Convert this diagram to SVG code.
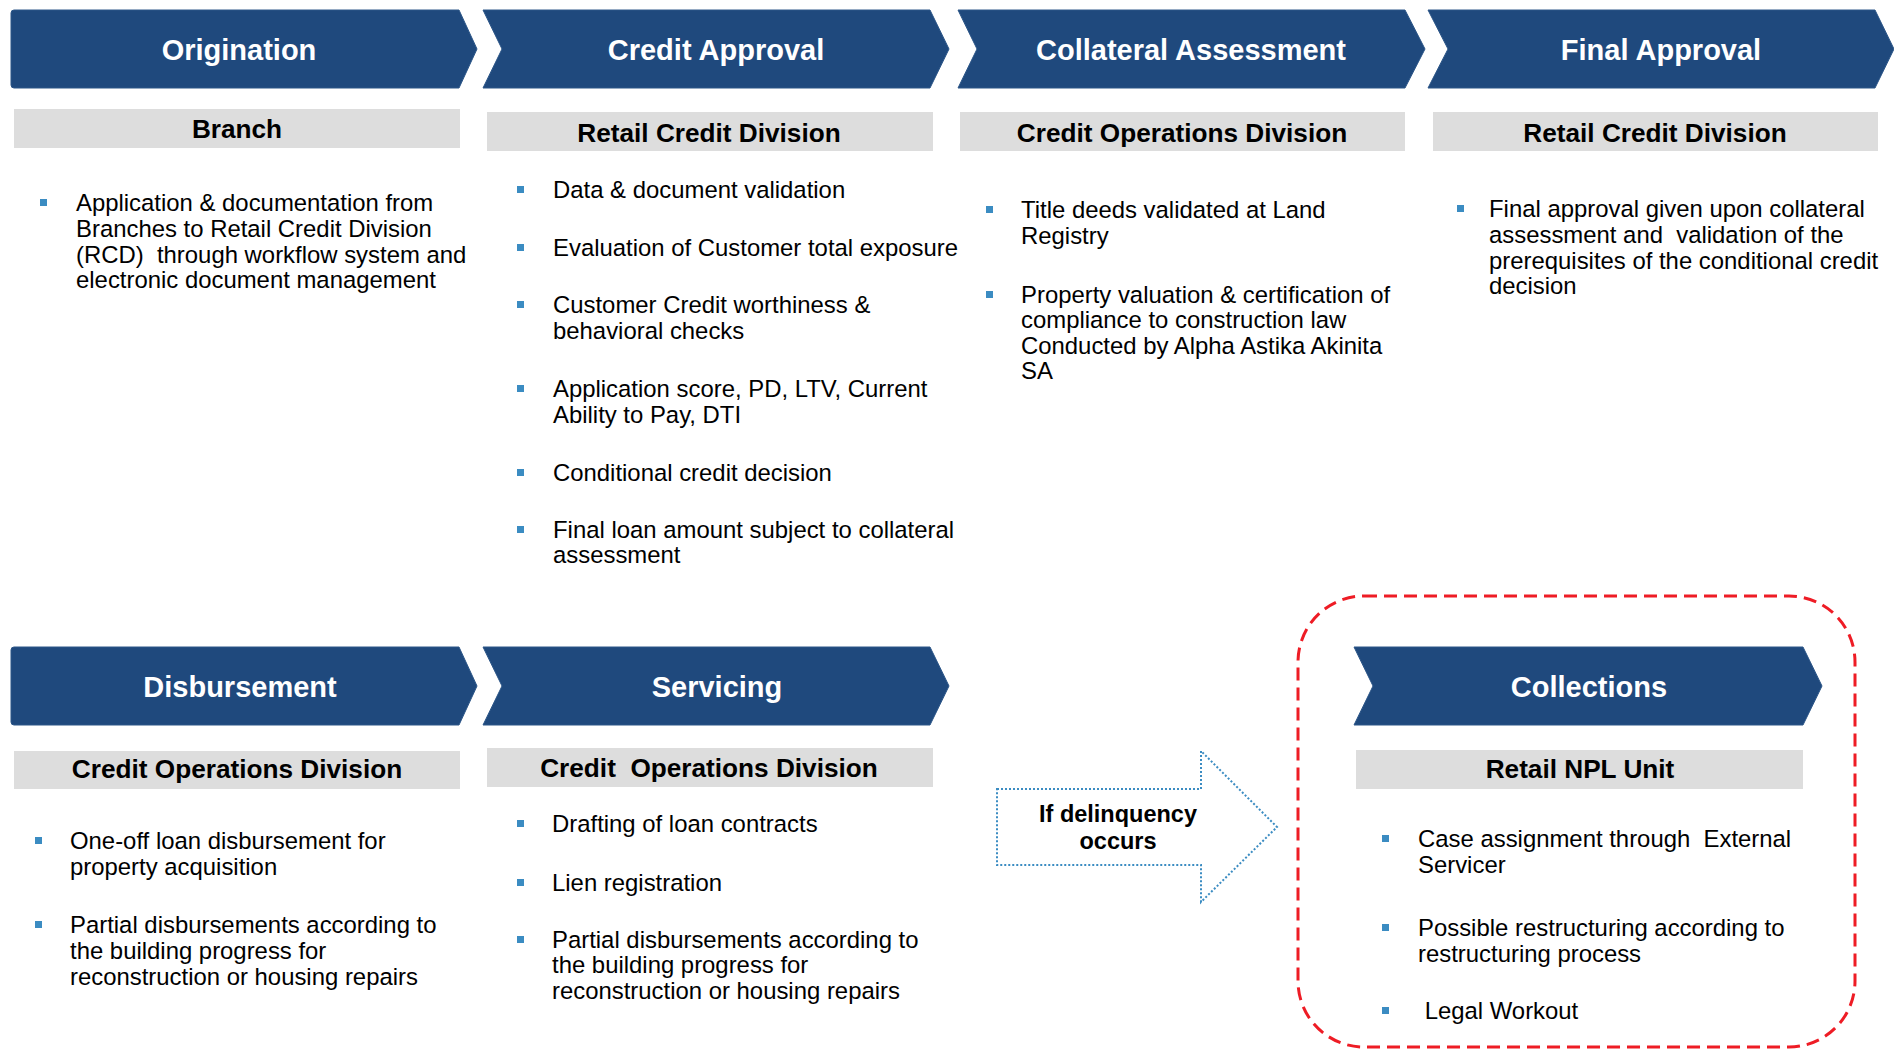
<svg xmlns="http://www.w3.org/2000/svg" width="1894" height="1053" viewBox="0 0 1894 1053">
<style>
.chev{fill:#1f497d;stroke:#2c5688;stroke-width:1}
.title{font-family:"Liberation Sans",Arial,sans-serif;font-weight:bold;font-size:29px;fill:#ffffff;text-anchor:middle}
.band{fill:#dddddd}
.head{font-family:"Liberation Sans",Arial,sans-serif;font-weight:bold;font-size:26.2px;fill:#000000;text-anchor:middle}
.body{font-family:"Liberation Sans",Arial,sans-serif;font-size:23.9px;fill:#000000}
.bul{fill:#3b8cc2}
.delq{fill:#ffffff;stroke:#3b8cc2;stroke-width:2;stroke-dasharray:2 2}
.delqt{font-family:"Liberation Sans",Arial,sans-serif;font-weight:bold;font-size:23.5px;fill:#000000;text-anchor:middle}
.frame{fill:none;stroke:#ee1c25;stroke-width:3;stroke-dasharray:13 7}
</style>
<rect width="1894" height="1053" fill="#ffffff"/>

<g id="origination">
<path class="chev" d="M14,10 L459,10 L477,49 L459,88 L14,88 Q11,88 11,85 L11,13 Q11,10 14,10 Z"/>
<text class="title" x="239" y="60">Origination</text>
<rect class="band" x="14" y="109" width="446" height="39"/>
<text class="head" x="237" y="138">Branch</text>
<rect class="bul" x="40" y="199" width="7" height="7"/>
<text class="body" xml:space="preserve"><tspan x="76" y="211">Application &amp; documentation from</tspan><tspan x="76" y="237">Branches to Retail Credit Division</tspan><tspan x="76" y="263">(RCD)  through workflow system and</tspan><tspan x="76" y="288">electronic document management</tspan></text>
</g>

<g id="credit-approval">
<path class="chev" d="M483,10 L930,10 L949,49 L930,88 L483,88 L502,49 Z"/>
<text class="title" x="716" y="60">Credit Approval</text>
<rect class="band" x="487" y="112" width="446" height="39"/>
<text class="head" x="709" y="142">Retail Credit Division</text>
<rect class="bul" x="517" y="186" width="7" height="7"/>
<text class="body" x="553" y="198">Data &amp; document validation</text>
<rect class="bul" x="517" y="244" width="7" height="7"/>
<text class="body" x="553" y="256">Evaluation of Customer total exposure</text>
<rect class="bul" x="517" y="301" width="7" height="7"/>
<text class="body"><tspan x="553" y="313">Customer Credit worthiness &amp;</tspan><tspan x="553" y="339">behavioral checks</tspan></text>
<rect class="bul" x="517" y="385" width="7" height="7"/>
<text class="body"><tspan x="553" y="397">Application score, PD, LTV, Current</tspan><tspan x="553" y="423">Ability to Pay, DTI</tspan></text>
<rect class="bul" x="517" y="469" width="7" height="7"/>
<text class="body" x="553" y="481">Conditional credit decision</text>
<rect class="bul" x="517" y="526" width="7" height="7"/>
<text class="body"><tspan x="553" y="538">Final loan amount subject to collateral</tspan><tspan x="553" y="563">assessment</tspan></text>
</g>

<g id="collateral-assessment">
<path class="chev" d="M958,10 L1405,10 L1425,49 L1405,88 L958,88 L977,49 Z"/>
<text class="title" x="1191" y="60">Collateral Assessment</text>
<rect class="band" x="960" y="112" width="445" height="39"/>
<text class="head" x="1182" y="142">Credit Operations Division</text>
<rect class="bul" x="986" y="206" width="7" height="7"/>
<text class="body"><tspan x="1021" y="218">Title deeds validated at Land</tspan><tspan x="1021" y="244">Registry</tspan></text>
<rect class="bul" x="986" y="291" width="7" height="7"/>
<text class="body"><tspan x="1021" y="303">Property valuation &amp; certification of</tspan><tspan x="1021" y="328">compliance to construction law</tspan><tspan x="1021" y="354">Conducted by Alpha Astika Akinita</tspan><tspan x="1021" y="379">SA</tspan></text>
</g>

<g id="final-approval">
<path class="chev" d="M1428,10 L1875,10 L1894,49 L1875,88 L1428,88 L1448,49 Z"/>
<text class="title" x="1661" y="60">Final Approval</text>
<rect class="band" x="1433" y="112" width="445" height="39"/>
<text class="head" x="1655" y="142">Retail Credit Division</text>
<rect class="bul" x="1457" y="205" width="7" height="7"/>
<text class="body" xml:space="preserve"><tspan x="1489" y="217">Final approval given upon collateral</tspan><tspan x="1489" y="243">assessment and  validation of the</tspan><tspan x="1489" y="269">prerequisites of the conditional credit</tspan><tspan x="1489" y="294">decision</tspan></text>
</g>

<g id="disbursement">
<path class="chev" d="M14,647 L459,647 L477,686 L459,725 L14,725 Q11,725 11,722 L11,650 Q11,647 14,647 Z"/>
<text class="title" x="240" y="697">Disbursement</text>
<rect class="band" x="14" y="751" width="446" height="38"/>
<text class="head" x="237" y="778">Credit Operations Division</text>
<rect class="bul" x="35" y="837" width="7" height="7"/>
<text class="body"><tspan x="70" y="849">One-off loan disbursement for</tspan><tspan x="70" y="875">property acquisition</tspan></text>
<rect class="bul" x="35" y="921" width="7" height="7"/>
<text class="body"><tspan x="70" y="933">Partial disbursements according to</tspan><tspan x="70" y="959">the building progress for</tspan><tspan x="70" y="985">reconstruction or housing repairs</tspan></text>
</g>

<g id="servicing">
<path class="chev" d="M483,647 L930,647 L949,686 L930,725 L483,725 L502,686 Z"/>
<text class="title" x="717" y="697">Servicing</text>
<rect class="band" x="487" y="748" width="446" height="39"/>
<text class="head" x="709" y="777" xml:space="preserve">Credit  Operations Division</text>
<rect class="bul" x="517" y="820" width="7" height="7"/>
<text class="body" x="552" y="832">Drafting of loan contracts</text>
<rect class="bul" x="517" y="879" width="7" height="7"/>
<text class="body" x="552" y="891">Lien registration</text>
<rect class="bul" x="517" y="936" width="7" height="7"/>
<text class="body"><tspan x="552" y="948">Partial disbursements according to</tspan><tspan x="552" y="973">the building progress for</tspan><tspan x="552" y="999">reconstruction or housing repairs</tspan></text>
</g>

<g id="collections">
<rect class="frame" x="1298" y="596" width="557" height="451" rx="66" ry="66"/>
<path class="chev" d="M1354,647 L1803,647 L1822,686 L1803,725 L1354,725 L1373,686 Z"/>
<text class="title" x="1589" y="697">Collections</text>
<rect class="band" x="1356" y="750" width="447" height="39"/>
<text class="head" x="1580" y="778">Retail NPL Unit</text>
<rect class="bul" x="1382" y="835" width="7" height="7"/>
<text class="body" xml:space="preserve"><tspan x="1418" y="847">Case assignment through  External</tspan><tspan x="1418" y="873">Servicer</tspan></text>
<rect class="bul" x="1382" y="924" width="7" height="7"/>
<text class="body"><tspan x="1418" y="936">Possible restructuring according to</tspan><tspan x="1418" y="962">restructuring process</tspan></text>
<rect class="bul" x="1382" y="1007" width="7" height="7"/>
<text class="body" x="1418" y="1019" xml:space="preserve"> Legal Workout</text>
</g>

<g id="connectors">
<g id="delinquency-arrow">
<path class="delq" d="M997,789 L1201,789 L1201,751 L1277,827 L1201,902 L1201,865 L997,865 Z"/>
<text class="delqt"><tspan x="1118" y="822">If delinquency</tspan><tspan x="1118" y="849">occurs</tspan></text>
</g>
</g>
</svg>
